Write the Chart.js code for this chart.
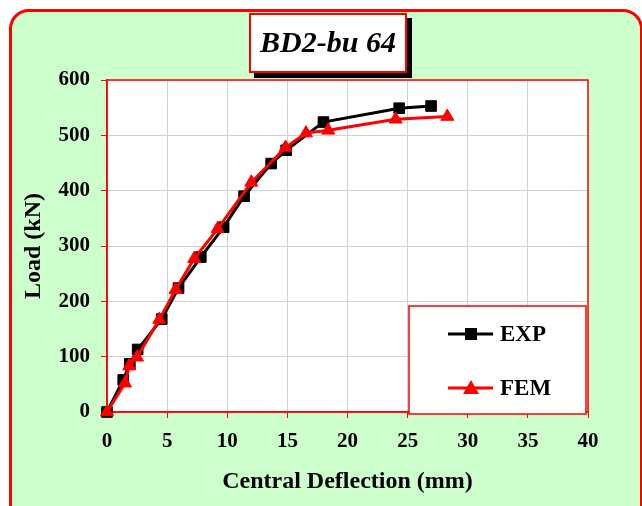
<!DOCTYPE html>
<html>
<head>
<meta charset="utf-8">
<script src="https://cdn.jsdelivr.net/npm/chart.js@4.4.1/dist/chart.umd.min.js"></script>
<style>
	html, body { margin: 0; padding: 0; background: #fff; overflow: hidden; }
	#wrap { position: relative; width: 642px; height: 506px; overflow: hidden; }
	#frame {
		position: absolute; left: 9px; top: 9px; width: 634px; height: 530px;
		box-sizing: border-box; border: 3px solid #ff0000; border-radius: 20px;
		background: #ccffcc;
	}
	#loadChart { position: absolute; left: 0; top: 0; }
	#titleBox {
		position: absolute; left: 249px; top: 13px; width: 158px; height: 60px;
		box-sizing: border-box; border: 2px solid #ff0000; background: #fff;
		box-shadow: 5px 5px 0 #000;
		font: italic bold 30px "Liberation Serif", serif;
		text-align: center; line-height: 54px; color: #000;
	}
</style>
</head>
<body>
<div id="wrap">
	<div id="frame"></div>
	<canvas id="loadChart" width="642" height="506"></canvas>
	<div id="titleBox">BD2-bu 64</div>
</div>
<script>
// 시험값 (EXP) : 중앙 처짐(mm) / 하중(kN)
const deflExp = [0, 1.35, 1.9, 2.55, 4.55, 5.95, 7.8, 9.7, 11.4, 13.65, 14.9, 18.0, 24.3, 26.95];
const loadExp = [0, 58, 87, 113, 168, 224, 280, 334, 390, 449, 473, 524, 549, 553];

// 해석값 (FEM)
const deflFem = [0, 1.5, 1.85, 2.5, 4.35, 5.7, 7.25, 9.2, 12.0, 14.85, 16.55, 18.4, 24.0, 28.3];
const loadFem = [0, 52, 83, 99, 167, 221, 277, 331, 415, 478, 504, 509, 529, 534];

const seriesNames = ['EXP', 'FEM'];

// 축 눈금
const xTicks = { min: 0, max: 40, step: 5 };
const yTicks = { min: 0, max: 600, step: 100 };

const serif = 'Liberation Serif';

function toPoints(xs, ys) {
	return xs.map(function(x, i) {
		return { x: x, y: ys[i] };
	});
}

// 플롯 영역 배경 + 테두리
const plotFrame = {
	id: 'plotFrame',
	beforeDraw: function(chart) {
		const a = chart.chartArea;
		const ctx = chart.ctx;
		ctx.save();
		ctx.fillStyle = '#ffffff';
		ctx.fillRect(a.left, a.top, a.right - a.left, a.bottom - a.top);
		ctx.restore();
	},
	beforeDatasetsDraw: function(chart) {
		const a = chart.chartArea;
		const ctx = chart.ctx;
		ctx.save();
		ctx.strokeStyle = '#ff0000';
		ctx.lineWidth = 1.5;
		ctx.strokeRect(a.left, a.top, a.right - a.left, a.bottom - a.top);
		ctx.restore();
	}
};

// 범례 박스 (오른쪽 아래)
const boxLegend = {
	id: 'boxLegend',
	afterDatasetsDraw: function(chart) {
		const ctx = chart.ctx;
		const bx = 409, by = 306, bw = 177, bh = 108;
		ctx.save();
		ctx.fillStyle = '#ffffff';
		ctx.fillRect(bx, by, bw, bh);
		ctx.strokeStyle = '#ff0000';
		ctx.lineWidth = 1.5;
		ctx.strokeRect(bx, by, bw, bh);

		chart.data.datasets.forEach(function(ds, i) {
			const y = 334 + i * 54;
			ctx.strokeStyle = ds.borderColor;
			ctx.lineWidth = 3;
			ctx.beginPath();
			ctx.moveTo(448, y);
			ctx.lineTo(493, y);
			ctx.stroke();

			ctx.fillStyle = ds.pointBackgroundColor;
			ctx.beginPath();
			if (ds.pointStyle === 'rect') {
				ctx.rect(465, y - 6, 12, 12);
			} else {
				ctx.moveTo(471, y - 8);
				ctx.lineTo(479, y + 6);
				ctx.lineTo(463, y + 6);
				ctx.closePath();
			}
			ctx.fill();

			ctx.fillStyle = '#000';
			ctx.font = 'bold 23px "' + serif + '"';
			ctx.textAlign = 'left';
			ctx.textBaseline = 'middle';
			ctx.fillText(ds.label, 500, y + 1);
		});
		ctx.restore();
	}
};

function axisOpts(range, titleText, titlePad) {
	return {
		type: 'linear',
		min: range.min,
		max: range.max,
		ticks: {
			stepSize: range.step,
			color: '#000',
			padding: 11,
			font: { family: serif, size: 21, weight: 'bold' }
		},
		grid: {
			color: '#d2d2d2',
			lineWidth: 1,
			tickLength: 6,
			tickColor: '#ff0000'
		},
		border: { color: '#ff0000', width: 1.5 },
		title: {
			display: true,
			text: titleText,
			color: '#000',
			padding: titlePad,
			font: { family: serif, size: 24, weight: 'bold' }
		}
	};
}

const xAxis = axisOpts(xTicks, 'Central Deflection (mm)', { top: 0, bottom: 10 });
xAxis.afterFit = function(scale) { scale.height = 94; };

const yAxis = axisOpts(yTicks, 'Load (kN)', { top: 19, bottom: 0 });
yAxis.afterFit = function(scale) { scale.width = 107; };

const ctx = document.getElementById('loadChart').getContext('2d');
const loadChart = new Chart(ctx, {
	type: 'line',
	data: {
		datasets: [{
			label: seriesNames[0],
			data: toPoints(deflExp, loadExp),
			borderColor: '#000000',
			backgroundColor: '#000000',
			pointBackgroundColor: '#000000',
			pointBorderColor: '#000000',
			pointStyle: 'rect',
			pointRadius: 7.5,
			pointBorderWidth: 1,
			borderWidth: 3,
			tension: 0,
			clip: false,
			order: 1
		}, {
			label: seriesNames[1],
			data: toPoints(deflFem, loadFem),
			borderColor: '#ff0000',
			backgroundColor: '#ff0000',
			pointBackgroundColor: '#ff0000',
			pointBorderColor: '#ff0000',
			pointStyle: 'triangle',
			pointRadius: 7.5,
			pointBorderWidth: 1,
			borderWidth: 3,
			tension: 0,
			clip: false,
			order: 0
		}]
	},
	options: {
		responsive: false,
		animation: false,
		devicePixelRatio: 1,
		layout: { padding: { left: 0, top: 80, right: 54, bottom: 0 } },
		scales: { x: xAxis, y: yAxis },
		plugins: {
			legend: { display: false },
			tooltip: { enabled: false }
		}
	},
	plugins: [plotFrame, boxLegend]
});
</script>
</body>
</html>
